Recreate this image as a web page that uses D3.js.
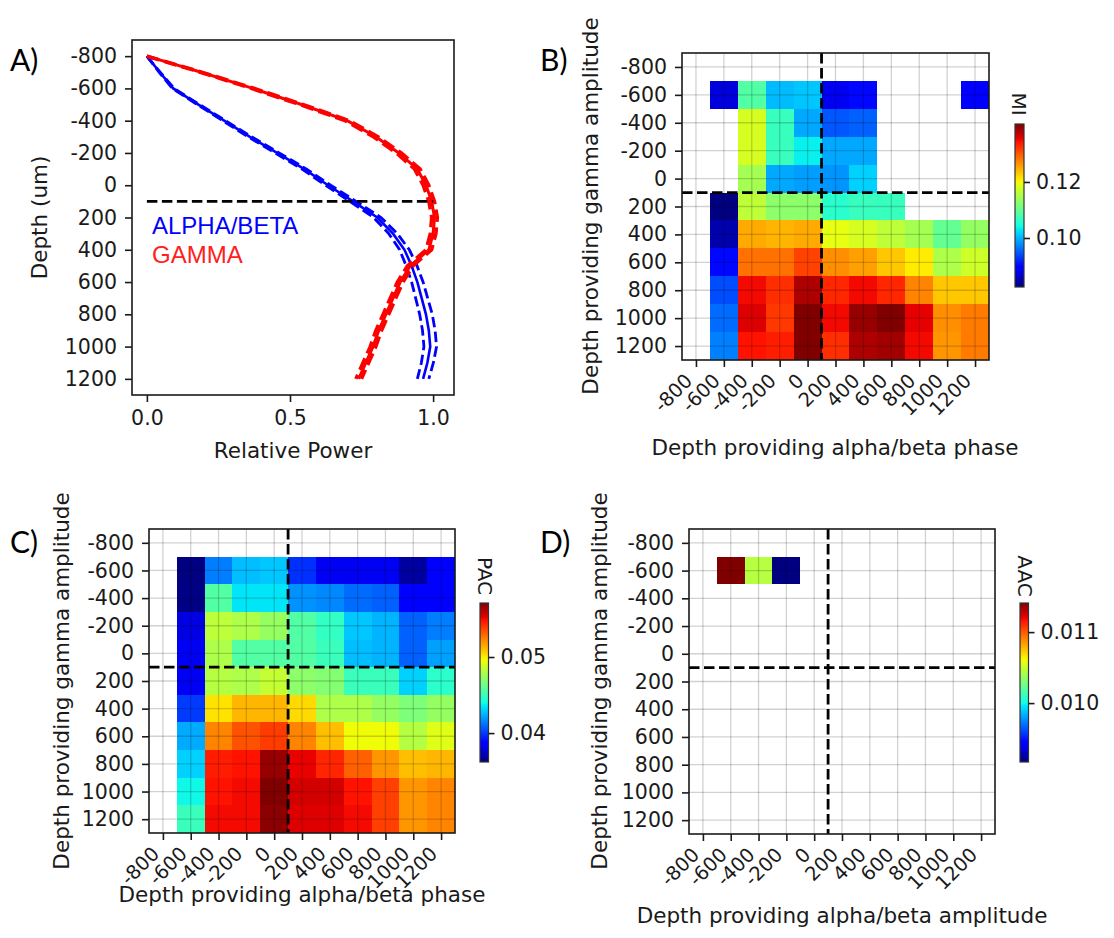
<!DOCTYPE html>
<html><head><meta charset="utf-8">
<script src="https://cdn.jsdelivr.net/npm/d3@7"></script>
<style>
body{margin:0;background:#fff;}
svg text{font-family:"DejaVu Sans",sans-serif;fill:#1a1a1a;}
</style></head><body>
<svg id="chart" width="1114" height="938"></svg>
<script>
// ---------- Panel A data ----------
const depths = [-800,-700,-600,-500,-400,-300,-200,-100,0,100,200,300,400,500,600,700,800,900,1000,1100,1200];
const alphaBetaMean = [0,0.045,0.092,0.18,0.27,0.36,0.455,0.55,0.633,0.72,0.805,0.86,0.90,0.925,0.945,0.96,0.975,0.985,0.99,0.98,0.965];
const alphaBetaErr  = [0,0.002,0.003,0.004,0.005,0.006,0.007,0.008,0.009,0.011,0.013,0.015,0.017,0.019,0.02,0.021,0.022,0.022,0.022,0.021,0.02];
const gammaMean = [0,0.19,0.37,0.54,0.70,0.80,0.88,0.945,0.975,0.995,1.005,1.0,0.985,0.92,0.885,0.86,0.835,0.81,0.79,0.765,0.74];
const gammaErr  = [0,0.004,0.006,0.007,0.008,0.009,0.009,0.01,0.01,0.01,0.01,0.01,0.01,0.01,0.01,0.01,0.01,0.01,0.01,0.01,0.01];
const depthTicks = [-800,-600,-400,-200,0,200,400,600,800,1000,1200];
const powerTicks = [0,0.5,1.0];
const boundaryDepth = 100;

// ---------- Heatmap data (rows = gamma amplitude depth, cols = alpha/beta depth) ----------
const gridDepths = [-800,-600,-400,-200,0,200,400,600,800,1000,1200];
const N = null;
const miValues = [
 [N,N,N,N,N,N,N,N,N,N,N],
 [N,0.0872,0.1087,0.1005,0.1011,0.0883,0.0901,N,N,N,0.0895],
 [N,N,0.1180,0.1069,0.0994,0.0947,0.0953,N,N,N,N],
 [N,N,0.1180,0.1069,0.1035,0.0994,0.0994,N,N,N,N],
 [N,N,0.1145,0.0994,0.0988,0.0982,0.1017,N,N,N,N],
 [N,0.0825,0.1163,0.1128,0.1128,0.1058,0.1069,0.1069,N,N,N],
 [N,0.0848,0.1250,0.1244,0.1250,0.1192,0.1180,0.1163,0.1145,0.1099,0.1133],
 [N,0.0901,0.1285,0.1285,0.1314,0.1267,0.1256,0.1232,0.1209,0.1151,0.1174],
 [N,0.0941,0.1349,0.1326,0.1384,0.1331,0.1349,0.1331,0.1273,0.1232,0.1232],
 [N,0.0959,0.1360,0.1320,0.1407,0.1349,0.1395,0.1407,0.1355,0.1267,0.1279],
 [N,0.0971,0.1343,0.1337,0.1407,0.1326,0.1384,0.1390,0.1349,0.1262,0.1279]
];
const pacValues = [
 [N,N,N,N,N,N,N,N,N,N,N],
 [N,0.0362,0.0414,0.0427,0.0429,0.0398,0.0383,0.0383,0.0383,0.0368,0.0385],
 [N,0.0363,0.0456,0.0435,0.0435,0.0418,0.0416,0.0410,0.0408,0.0385,0.0385],
 [N,0.0380,0.0483,0.0479,0.0473,0.0456,0.0448,0.0429,0.0425,0.0408,0.0414],
 [N,0.0383,0.0479,0.0456,0.0456,0.0456,0.0450,0.0427,0.0425,0.0408,0.0421],
 [N,0.0383,0.0481,0.0479,0.0485,0.0471,0.0469,0.0450,0.0450,0.0431,0.0446],
 [N,0.0400,0.0502,0.0512,0.0512,0.0504,0.0479,0.0479,0.0473,0.0467,0.0473],
 [N,0.0423,0.0523,0.0534,0.0539,0.0523,0.0510,0.0496,0.0496,0.0481,0.0492],
 [N,0.0431,0.0546,0.0548,0.0567,0.0552,0.0544,0.0531,0.0519,0.0510,0.0512],
 [N,0.0439,0.0548,0.0550,0.0571,0.0556,0.0556,0.0548,0.0538,0.0519,0.0523],
 [N,0.0450,0.0550,0.0550,0.0569,0.0554,0.0554,0.0550,0.0538,0.0519,0.0523]
];
const aacValues = [
 [N,N,N,N,N,N,N,N,N,N,N],
 [N,0.01141,0.01045,0.00917,N,N,N,N,N,N,N],
 [N,N,N,N,N,N,N,N,N,N,N],
 [N,N,N,N,N,N,N,N,N,N,N],
 [N,N,N,N,N,N,N,N,N,N,N],
 [N,N,N,N,N,N,N,N,N,N,N],
 [N,N,N,N,N,N,N,N,N,N,N],
 [N,N,N,N,N,N,N,N,N,N,N],
 [N,N,N,N,N,N,N,N,N,N,N],
 [N,N,N,N,N,N,N,N,N,N,N],
 [N,N,N,N,N,N,N,N,N,N,N]
];
const miTicks = [0.10,0.12];
const pacTicks = [0.04,0.05];
const aacTicks = [0.010,0.011];

// ---------- jet colormap ----------
const jetR = d3.scaleLinear().domain([0,0.35,0.66,0.89,1]).range([0,0,1,1,0.5]).clamp(true);
const jetG = d3.scaleLinear().domain([0,0.125,0.375,0.64,0.91,1]).range([0,0,1,1,0,0]).clamp(true);
const jetB = d3.scaleLinear().domain([0,0.11,0.34,0.65,1]).range([0.5,1,1,0,0]).clamp(true);
const jet = t => d3.rgb(Math.round(jetR(t)*255), Math.round(jetG(t)*255), Math.round(jetB(t)*255)).formatHex();

const svg = d3.select("#chart");
const defs = svg.append("defs");
const grad = defs.append("linearGradient").attr("id","jetGrad").attr("x1",0).attr("y1",1).attr("x2",0).attr("y2",0);
d3.range(0,201).forEach(i=>{const t=i/200; grad.append("stop").attr("offset",t).attr("stop-color",jet(t));});

const TICK_FS = 20.5, LABEL_FS = 21.5;
function styleAxis(g, fs){
  g.attr("font-size",fs||TICK_FS).attr("font-family","DejaVu Sans").attr("color","#1a1a1a");
  g.select(".domain").remove();
  g.selectAll(".tick line").attr("stroke-width",1.6);
}

// ---------- Panel A ----------
(function(){
  const L=132,T=40,R=454,B=395;
  const x = d3.scaleLinear().domain([-0.052,1.073]).range([L,R]);
  const y = d3.scaleLinear().domain([-900,1300]).range([T,B]);
  const g = svg.append("g");
  const line = d3.line().x(d=>x(d[0])).y(d=>y(d[1]));
  const series = [
    {mean:alphaBetaMean, err:alphaBetaErr, color:"#0000ff", w:2.6, dw:2.8},
    {mean:gammaMean, err:gammaErr, color:"#ff0000", w:3, dw:3.4}
  ];
  series.forEach(s=>{
    [-1,1].forEach(sign=>{
      g.append("path").datum(depths.map((d,i)=>[s.mean[i]+sign*s.err[i], d]))
        .attr("d",line).attr("fill","none").attr("stroke",s.color).attr("stroke-width",s.dw)
        .attr("stroke-dasharray",`${3.7*s.dw},${1.6*s.dw}`);
    });
    g.append("path").datum(depths.map((d,i)=>[s.mean[i], d]))
      .attr("d",line).attr("fill","none").attr("stroke",s.color).attr("stroke-width",s.w);
  });
  g.append("path").datum([[0,boundaryDepth],[1,boundaryDepth]]).attr("d",line)
    .attr("stroke","#000").attr("stroke-width",2.8).attr("stroke-dasharray","10.5,4.5").attr("fill","none");
  g.append("rect").attr("x",L).attr("y",T).attr("width",R-L).attr("height",B-T)
    .attr("fill","none").attr("stroke","#1a1a1a").attr("stroke-width",1.6);
  g.append("g").attr("transform",`translate(${L},0)`)
    .call(d3.axisLeft(y).tickValues(depthTicks).tickSize(7).tickPadding(8).tickFormat(d=>String(d))).call(styleAxis);
  g.append("g").attr("transform",`translate(0,${B})`)
    .call(d3.axisBottom(x).tickValues(powerTicks).tickSize(7).tickPadding(8).tickFormat(d3.format(".1f"))).call(styleAxis);
  g.append("text").attr("transform",`translate(39,${(T+B)/2}) rotate(-90)`).attr("text-anchor","middle")
    .attr("dy","0.35em").attr("font-size",LABEL_FS).text("Depth (um)");
  g.append("text").attr("x",(L+R)/2).attr("y",450).attr("dy","0.35em").attr("text-anchor","middle")
    .attr("font-size",LABEL_FS).text("Relative Power");
  g.append("text").attr("x",152).attr("y",234).attr("font-size",24).style("font-family","Liberation Sans")
    .style("fill","#0000ff").text("ALPHA/BETA");
  g.append("text").attr("x",152).attr("y",263).attr("font-size",24).style("font-family","Liberation Sans")
    .style("fill","#ff2020").text("GAMMA");
})();

// ---------- Heatmap panels ----------
function heatPanel(cfg){
  const {L,T,W,H,values,cb,cbTicks,cbFmt,cbLabel,cbLabelPos,xlabel,xlabelPos,ylabelPos} = cfg;
  const x = d3.scaleLinear().domain([-900,1300]).range([L,L+W]);
  const y = d3.scaleLinear().domain([-900,1300]).range([T,T+H]);
  const ext = d3.extent(values.flat().filter(v=>v!=null));
  const norm = d3.scaleLinear().domain(ext).range([0,1]).clamp(true);
  const g = svg.append("g");
  const half = (gridDepths[1]-gridDepths[0])/2;
  const cells = values.flatMap((row,i)=>row.map((v,j)=>({r:gridDepths[i],c:gridDepths[j],v}))).filter(d=>d.v!=null);
  g.append("g").attr("shape-rendering","crispEdges").selectAll("rect").data(cells).join("rect")
    .attr("x",d=>x(d.c-half)).attr("y",d=>y(d.r-half))
    .attr("width",d=>x(d.c+half)-x(d.c-half)).attr("height",d=>y(d.r+half)-y(d.r-half))
    .attr("fill",d=>jet(norm(d.v)));
  const grid = g.append("g").attr("stroke","#000").attr("stroke-opacity",0.18).attr("stroke-width",1.3);
  gridDepths.forEach(d=>{
    grid.append("line").attr("x1",x(d)).attr("x2",x(d)).attr("y1",T).attr("y2",T+H);
    grid.append("line").attr("y1",y(d)).attr("y2",y(d)).attr("x1",L).attr("x2",L+W);
  });
  g.append("line").attr("x1",x(boundaryDepth)).attr("x2",x(boundaryDepth)).attr("y1",T).attr("y2",T+H)
    .attr("stroke","#000").attr("stroke-width",2.8).attr("stroke-dasharray","10.5,4.5");
  g.append("line").attr("y1",y(boundaryDepth)).attr("y2",y(boundaryDepth)).attr("x1",L).attr("x2",L+W)
    .attr("stroke","#000").attr("stroke-width",2.8).attr("stroke-dasharray","10.5,4.5");
  g.append("rect").attr("x",L).attr("y",T).attr("width",W).attr("height",H)
    .attr("fill","none").attr("stroke","#1a1a1a").attr("stroke-width",1.6);
  g.append("g").attr("transform",`translate(${L},0)`)
    .call(d3.axisLeft(y).tickValues(gridDepths).tickSize(7).tickPadding(8).tickFormat(d=>String(d))).call(styleAxis);
  const xa = g.append("g").attr("transform",`translate(0,${T+H})`)
    .call(d3.axisBottom(x).tickValues(gridDepths).tickSize(7).tickFormat(d=>String(d))).call(g2=>styleAxis(g2,19.5));
  xa.selectAll(".tick text").attr("x",null).attr("y",null).attr("dy",null)
    .attr("text-anchor","end").attr("transform","translate(-3,22) rotate(-45)");
  // colorbar
  const cs = d3.scaleLinear().domain(ext).range([cb.y+cb.h, cb.y]);
  g.append("rect").attr("x",cb.x).attr("y",cb.y).attr("width",cb.w).attr("height",cb.h)
    .attr("fill","url(#jetGrad)").attr("stroke","#333").attr("stroke-width",1.2);
  g.append("g").attr("transform",`translate(${cb.x+cb.w},0)`)
    .call(d3.axisRight(cs).tickValues(cbTicks).tickSize(6).tickPadding(6).tickFormat(d3.format(cbFmt))).call(styleAxis);
  g.append("text").attr("transform",`translate(${cbLabelPos[0]},${cbLabelPos[1]}) rotate(90)`)
    .attr("text-anchor","middle").attr("dy","0.35em").attr("font-size",20).text(cbLabel);
  g.append("text").attr("x",xlabelPos[0]).attr("y",xlabelPos[1]).attr("dy","0.35em").attr("text-anchor","middle")
    .attr("font-size",LABEL_FS).text(xlabel);
  g.append("text").attr("transform",`translate(${ylabelPos[0]},${ylabelPos[1]}) rotate(-90)`)
    .attr("dy","0.35em").attr("text-anchor","middle").attr("font-size",LABEL_FS).text("Depth providing gamma amplitude");
}

heatPanel({L:682,T:53,W:307,H:307,values:miValues,cb:{x:1015,y:124,w:9,h:163},cbTicks:miTicks,cbFmt:".2f",
  cbLabel:"MI",cbLabelPos:[1019,104],xlabel:"Depth providing alpha/beta phase",xlabelPos:[835,447],ylabelPos:[590,206]});
heatPanel({L:149,T:529,W:306,H:304,values:pacValues,cb:{x:480,y:603,w:8.5,h:159},cbTicks:pacTicks,cbFmt:".2f",
  cbLabel:"PAC",cbLabelPos:[485,576],xlabel:"Depth providing alpha/beta phase",xlabelPos:[302,894],ylabelPos:[61,681]});
heatPanel({L:689,T:529,W:306,H:305,values:aacValues,cb:{x:1020,y:603,w:8.5,h:159},cbTicks:aacTicks,cbFmt:".3f",
  cbLabel:"AAC",cbLabelPos:[1025,576],xlabel:"Depth providing alpha/beta amplitude",xlabelPos:[842,915],ylabelPos:[599,681]});

// panel letters
[["A)",10,71],["B)",540,71],["C)",10,553],["D)",540,553]].forEach(([t,px,py])=>{
  svg.append("text").attr("x",px).attr("y",py).attr("font-size",30).style("font-family","Lato").style("fill","#000").text(t);
});
</script>
</body></html>
